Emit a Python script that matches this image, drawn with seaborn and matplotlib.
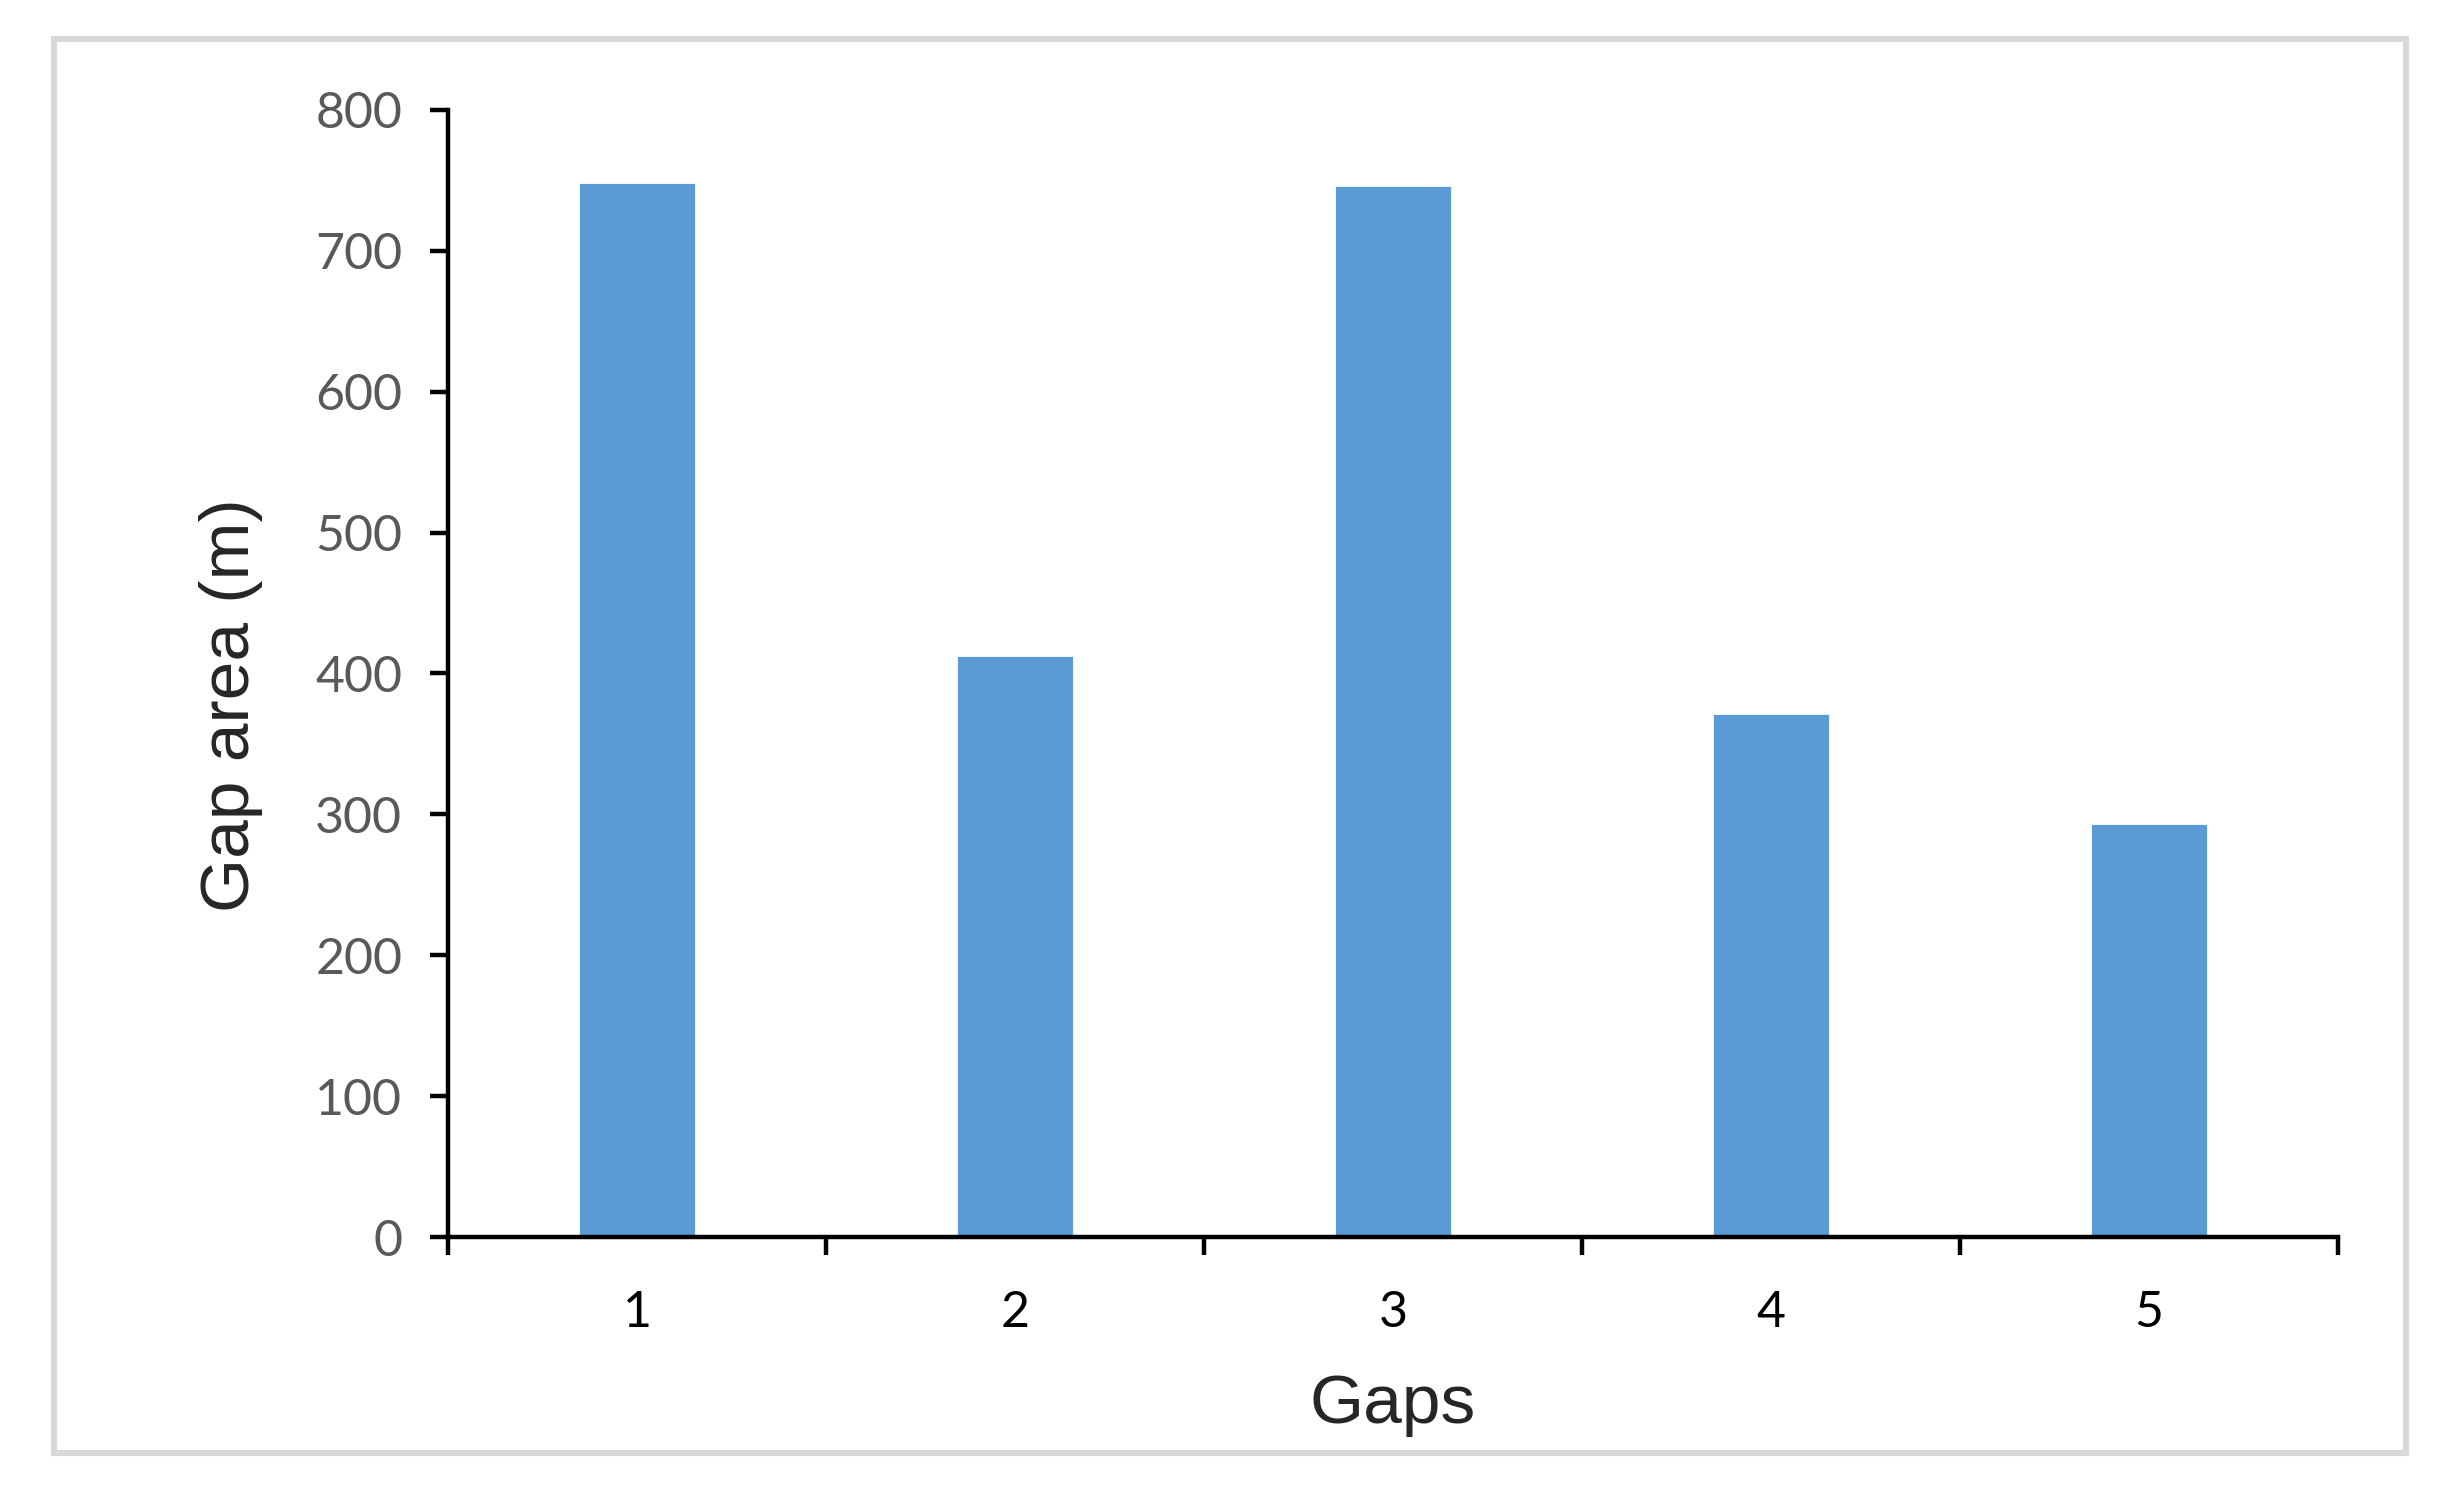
import matplotlib
matplotlib.use('Agg')
import matplotlib.pyplot as plt
from matplotlib.patches import Rectangle
import seaborn as sns
import pandas as pd

# Data
gaps = ['1', '2', '3', '4', '5']
gap_area = [749, 413, 747, 372, 294]

df = pd.DataFrame({'Gaps': gaps, 'Gap area': gap_area})

sns.set_style('white')
plt.rcParams['font.family'] = ['Lato', 'DejaVu Sans']

fig = plt.figure(figsize=(12.195, 7.52), dpi=200)
ax = fig.add_axes([0.1837, 0.1775, 0.7749, 0.7494])

sns.barplot(data=df, x='Gaps', y='Gap area', color='#5B9BD5', saturation=1,
            width=0.31, ax=ax)

ax.set_ylim(0, 800)
ax.set_xlim(-0.5, len(gaps) - 0.5)
ax.set_yticks(range(0, 801, 100))
ax.set_yticklabels([str(v) for v in range(0, 801, 100)])

# Excel-style: tick marks between categories, labels at the centers
ax.set_xticks([i - 0.5 for i in range(len(gaps) + 1)])
ax.set_xticklabels([])
ax.set_xticks(range(len(gaps)), minor=True)
ax.set_xticklabels(gaps, minor=True)

ax.tick_params(axis='x', which='major', direction='out', length=6.5, width=1.6,
               color='black', bottom=True)
ax.tick_params(axis='x', which='minor', length=0, pad=19, labelsize=18,
               labelcolor='black')
ax.tick_params(axis='y', direction='out', length=6.5, width=1.6, color='black',
               left=True, pad=10, labelsize=18, labelcolor='#595959')

for side in ['top', 'right']:
    ax.spines[side].set_visible(False)
for side in ['left', 'bottom']:
    ax.spines[side].set_color('black')
    ax.spines[side].set_linewidth(1.6)

ax.set_xlabel('Gaps', fontsize=25, family=['Liberation Sans', 'DejaVu Sans'])
ax.set_ylabel('Gap area (m)', fontsize=25, family=['Liberation Sans', 'DejaVu Sans'])
ax.xaxis.set_label_coords(0.5, -0.121)
ax.yaxis.set_label_coords(-0.098, 0.472)

# light grey frame around the chart
fig.add_artist(Rectangle((0.0221, 0.0339), 0.9644, 0.9401, transform=fig.transFigure,
                         fill=False, edgecolor='#D9D9D9', linewidth=2.2))

fig.savefig('out.png', dpi=200, facecolor='white')
